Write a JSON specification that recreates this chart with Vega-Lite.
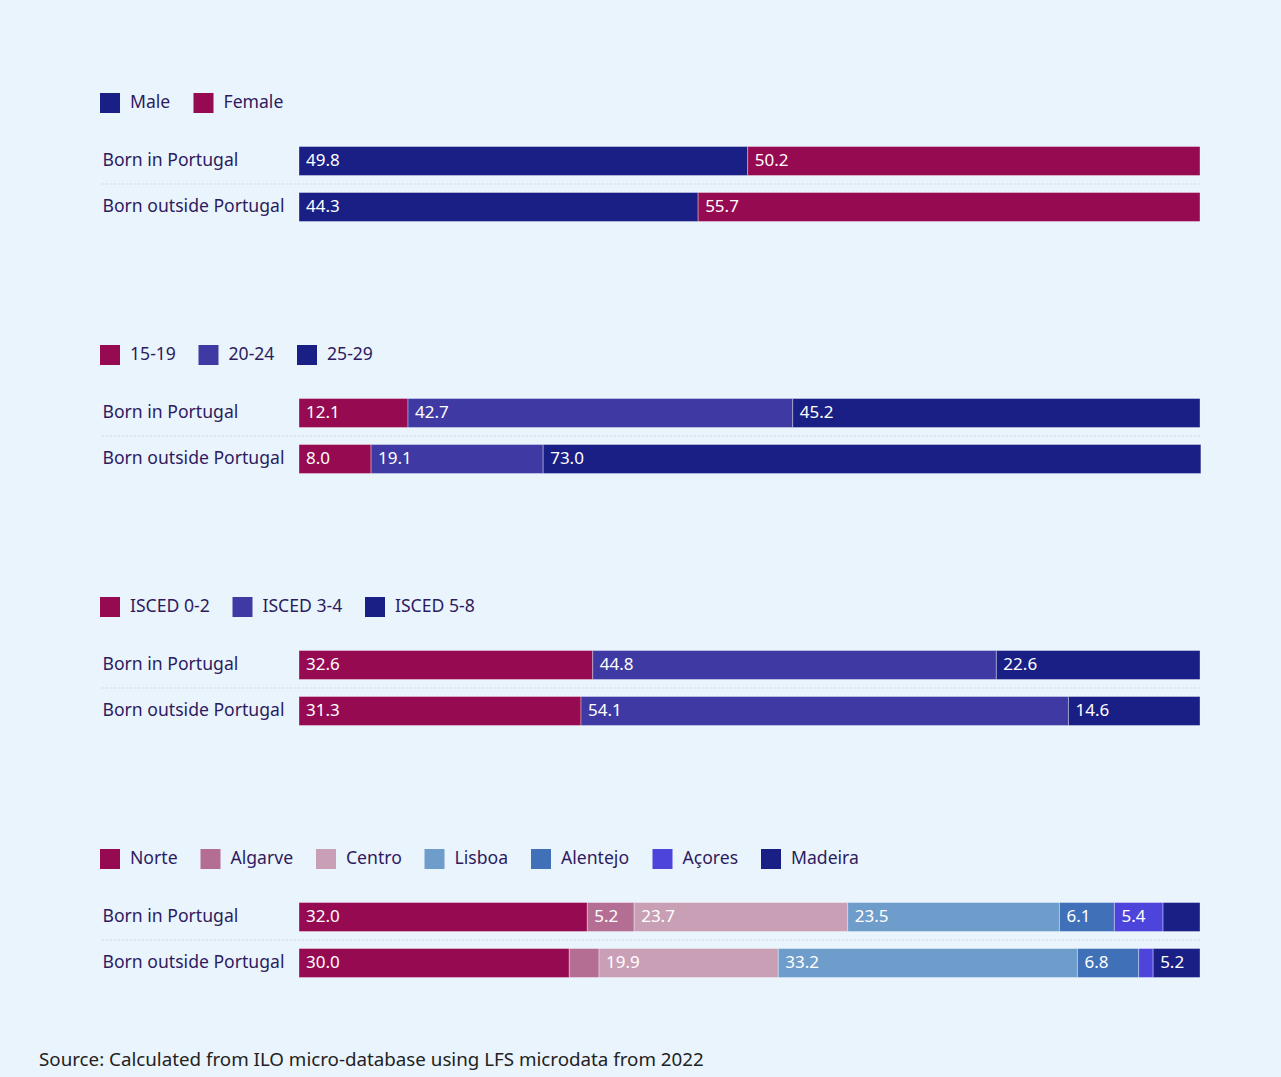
{
  "$schema": "https://vega.github.io/schema/vega-lite/v6.json",
  "background": "#eaf4fd",
  "padding": {"left": 39, "top": 93, "right": 81, "bottom": 12},
  "datasets": {
    "sex": [
      {"row": "Born in Portugal", "cat": "Male", "ord": 1, "value": 49.8},
      {"row": "Born in Portugal", "cat": "Female", "ord": 2, "value": 50.2},
      {"row": "Born outside Portugal", "cat": "Male", "ord": 1, "value": 44.3},
      {"row": "Born outside Portugal", "cat": "Female", "ord": 2, "value": 55.7}
    ],
    "age": [
      {"row": "Born in Portugal", "cat": "15-19", "ord": 1, "value": 12.1},
      {"row": "Born in Portugal", "cat": "20-24", "ord": 2, "value": 42.7},
      {"row": "Born in Portugal", "cat": "25-29", "ord": 3, "value": 45.2},
      {"row": "Born outside Portugal", "cat": "15-19", "ord": 1, "value": 8.0},
      {"row": "Born outside Portugal", "cat": "20-24", "ord": 2, "value": 19.1},
      {"row": "Born outside Portugal", "cat": "25-29", "ord": 3, "value": 73.0}
    ],
    "edu": [
      {"row": "Born in Portugal", "cat": "ISCED 0-2", "ord": 1, "value": 32.6},
      {"row": "Born in Portugal", "cat": "ISCED 3-4", "ord": 2, "value": 44.8},
      {"row": "Born in Portugal", "cat": "ISCED 5-8", "ord": 3, "value": 22.6},
      {"row": "Born outside Portugal", "cat": "ISCED 0-2", "ord": 1, "value": 31.3},
      {"row": "Born outside Portugal", "cat": "ISCED 3-4", "ord": 2, "value": 54.1},
      {"row": "Born outside Portugal", "cat": "ISCED 5-8", "ord": 3, "value": 14.6}
    ],
    "region": [
      {"row": "Born in Portugal", "cat": "Norte", "ord": 1, "value": 32.0},
      {"row": "Born in Portugal", "cat": "Algarve", "ord": 2, "value": 5.2},
      {"row": "Born in Portugal", "cat": "Centro", "ord": 3, "value": 23.7},
      {"row": "Born in Portugal", "cat": "Lisboa", "ord": 4, "value": 23.5},
      {"row": "Born in Portugal", "cat": "Alentejo", "ord": 5, "value": 6.1},
      {"row": "Born in Portugal", "cat": "Açores", "ord": 6, "value": 5.4},
      {"row": "Born in Portugal", "cat": "Madeira", "ord": 7, "value": 4.1},
      {"row": "Born outside Portugal", "cat": "Norte", "ord": 1, "value": 30.0},
      {"row": "Born outside Portugal", "cat": "Algarve", "ord": 2, "value": 3.3},
      {"row": "Born outside Portugal", "cat": "Centro", "ord": 3, "value": 19.9},
      {"row": "Born outside Portugal", "cat": "Lisboa", "ord": 4, "value": 33.2},
      {"row": "Born outside Portugal", "cat": "Alentejo", "ord": 5, "value": 6.8},
      {"row": "Born outside Portugal", "cat": "Açores", "ord": 6, "value": 1.6},
      {"row": "Born outside Portugal", "cat": "Madeira", "ord": 7, "value": 5.2}
    ]
  },
  "title": {
    "text": "Source: Calculated from ILO micro-database using LFS microdata from 2022",
    "orient": "bottom", "anchor": "start", "dx": -61, "offset": 65,
    "font": "Noto Sans", "fontSize": 18.75, "fontWeight": "normal", "color": "#222222"
  },
  "spacing": 115,
  "resolve": {"scale": {"color": "independent"}, "legend": {"color": "independent"}},
  "vconcat": [
    {
      "width": 901, "height": 92,
      "layer": [
        {
          "data": {"name": "sex"},
          "transform": [{"stack": "value", "groupby": ["row"], "sort": [{"field": "ord"}], "as": ["x0", "x1"]}],
          "layer": [
            {"mark": {"type": "bar", "stroke": "#ffffff", "strokeOpacity": 0.35, "strokeWidth": 1},
             "encoding": {
               "y": {"field": "row", "type": "nominal", "sort": null, "scale": {"paddingInner": 0.37, "paddingOuter": 0.185}},
               "x": {"field": "x0", "type": "quantitative", "scale": {"domain": [0, 100]}, "axis": null},
               "x2": {"field": "x1"},
               "color": {"field": "cat", "type": "nominal", "scale": {"domain": ["Male", "Female"], "range": ["#1a1f85", "#960a52"]}}
             }},
            {"mark": {"type": "text", "align": "left", "baseline": "middle", "dx": 7, "color": "#ffffff", "font": "Noto Sans", "fontSize": 17},
             "transform": [{"filter": "datum.value >= 5"}],
             "encoding": {
               "y": {"field": "row", "type": "nominal", "sort": null},
               "x": {"field": "x0", "type": "quantitative"},
               "text": {"field": "value", "type": "quantitative", "format": ".1f"}
             }}
          ]
        },
        {
          "data": {"values": [{}]},
          "mark": {"type": "rule", "strokeDash": [2, 2], "color": "#cdd6e2", "strokeWidth": 1},
          "encoding": {
            "x": {"datum": -21.9, "type": "quantitative", "scale": {"domain": [0, 100]}},
            "x2": {"datum": 100},
            "y": {"datum": 0.5, "type": "quantitative", "scale": {"domain": [0, 1]}, "axis": null}
          }
        }
      ],
      "resolve": {"scale": {"y": "independent"}}
    },
    {
      "width": 901, "height": 92,
      "layer": [
        {
          "data": {"name": "age"},
          "transform": [{"stack": "value", "groupby": ["row"], "sort": [{"field": "ord"}], "as": ["x0", "x1"]}],
          "layer": [
            {"mark": {"type": "bar", "stroke": "#ffffff", "strokeOpacity": 0.35, "strokeWidth": 1},
             "encoding": {
               "y": {"field": "row", "type": "nominal", "sort": null, "scale": {"paddingInner": 0.37, "paddingOuter": 0.185}},
               "x": {"field": "x0", "type": "quantitative", "scale": {"domain": [0, 100]}, "axis": null},
               "x2": {"field": "x1"},
               "color": {"field": "cat", "type": "nominal", "scale": {"domain": ["15-19", "20-24", "25-29"], "range": ["#960a52", "#3f3aa3", "#1a1f85"]}}
             }},
            {"mark": {"type": "text", "align": "left", "baseline": "middle", "dx": 7, "color": "#ffffff", "font": "Noto Sans", "fontSize": 17},
             "transform": [{"filter": "datum.value >= 5"}],
             "encoding": {
               "y": {"field": "row", "type": "nominal", "sort": null},
               "x": {"field": "x0", "type": "quantitative"},
               "text": {"field": "value", "type": "quantitative", "format": ".1f"}
             }}
          ]
        },
        {
          "data": {"values": [{}]},
          "mark": {"type": "rule", "strokeDash": [2, 2], "color": "#cdd6e2", "strokeWidth": 1},
          "encoding": {
            "x": {"datum": -21.9, "type": "quantitative", "scale": {"domain": [0, 100]}},
            "x2": {"datum": 100},
            "y": {"datum": 0.5, "type": "quantitative", "scale": {"domain": [0, 1]}, "axis": null}
          }
        }
      ],
      "resolve": {"scale": {"y": "independent"}}
    },
    {
      "width": 901, "height": 92,
      "layer": [
        {
          "data": {"name": "edu"},
          "transform": [{"stack": "value", "groupby": ["row"], "sort": [{"field": "ord"}], "as": ["x0", "x1"]}],
          "layer": [
            {"mark": {"type": "bar", "stroke": "#ffffff", "strokeOpacity": 0.35, "strokeWidth": 1},
             "encoding": {
               "y": {"field": "row", "type": "nominal", "sort": null, "scale": {"paddingInner": 0.37, "paddingOuter": 0.185}},
               "x": {"field": "x0", "type": "quantitative", "scale": {"domain": [0, 100]}, "axis": null},
               "x2": {"field": "x1"},
               "color": {"field": "cat", "type": "nominal", "scale": {"domain": ["ISCED 0-2", "ISCED 3-4", "ISCED 5-8"], "range": ["#960a52", "#3f3aa3", "#1a1f85"]}}
             }},
            {"mark": {"type": "text", "align": "left", "baseline": "middle", "dx": 7, "color": "#ffffff", "font": "Noto Sans", "fontSize": 17},
             "transform": [{"filter": "datum.value >= 5"}],
             "encoding": {
               "y": {"field": "row", "type": "nominal", "sort": null},
               "x": {"field": "x0", "type": "quantitative"},
               "text": {"field": "value", "type": "quantitative", "format": ".1f"}
             }}
          ]
        },
        {
          "data": {"values": [{}]},
          "mark": {"type": "rule", "strokeDash": [2, 2], "color": "#cdd6e2", "strokeWidth": 1},
          "encoding": {
            "x": {"datum": -21.9, "type": "quantitative", "scale": {"domain": [0, 100]}},
            "x2": {"datum": 100},
            "y": {"datum": 0.5, "type": "quantitative", "scale": {"domain": [0, 1]}, "axis": null}
          }
        }
      ],
      "resolve": {"scale": {"y": "independent"}}
    },
    {
      "width": 901, "height": 92,
      "layer": [
        {
          "data": {"name": "region"},
          "transform": [{"stack": "value", "groupby": ["row"], "sort": [{"field": "ord"}], "as": ["x0", "x1"]}],
          "layer": [
            {"mark": {"type": "bar", "stroke": "#ffffff", "strokeOpacity": 0.35, "strokeWidth": 1},
             "encoding": {
               "y": {"field": "row", "type": "nominal", "sort": null, "scale": {"paddingInner": 0.37, "paddingOuter": 0.185}},
               "x": {"field": "x0", "type": "quantitative", "scale": {"domain": [0, 100]}, "axis": null},
               "x2": {"field": "x1"},
               "color": {"field": "cat", "type": "nominal", "scale": {"domain": ["Norte", "Algarve", "Centro", "Lisboa", "Alentejo", "Açores", "Madeira"], "range": ["#960a52", "#b56e93", "#c99fb6", "#6f9dcb", "#4071b8", "#4d44dc", "#1a1f85"]}}
             }},
            {"mark": {"type": "text", "align": "left", "baseline": "middle", "dx": 7, "color": "#ffffff", "font": "Noto Sans", "fontSize": 17},
             "transform": [{"filter": "datum.value >= 5"}],
             "encoding": {
               "y": {"field": "row", "type": "nominal", "sort": null},
               "x": {"field": "x0", "type": "quantitative"},
               "text": {"field": "value", "type": "quantitative", "format": ".1f"}
             }}
          ]
        },
        {
          "data": {"values": [{}]},
          "mark": {"type": "rule", "strokeDash": [2, 2], "color": "#cdd6e2", "strokeWidth": 1},
          "encoding": {
            "x": {"datum": -21.9, "type": "quantitative", "scale": {"domain": [0, 100]}},
            "x2": {"datum": 100},
            "y": {"datum": 0.5, "type": "quantitative", "scale": {"domain": [0, 1]}, "axis": null}
          }
        }
      ],
      "resolve": {"scale": {"y": "independent"}}
    }
  ],
  "config": {
    "view": {"stroke": null},
    "font": "Noto Sans",
    "axisY": {"title": null, "domain": false, "ticks": false, "grid": false, "labelAlign": "left", "labelBaseline": "middle", "labelPadding": 197, "labelFontSize": 17.6, "labelFont": "Noto Sans", "labelColor": "#2d1b5e", "labelLimit": 300},
    "legend": {"orient": "none", "legendX": -199, "legendY": -45, "direction": "horizontal", "title": null, "symbolType": "square", "symbolSize": 400, "symbolStrokeWidth": 0, "symbolOpacity": 1, "labelFontSize": 17.6, "labelFont": "Noto Sans", "labelColor": "#2d1b5e", "columnPadding": 22.5, "labelOffset": 10}
  }
}
